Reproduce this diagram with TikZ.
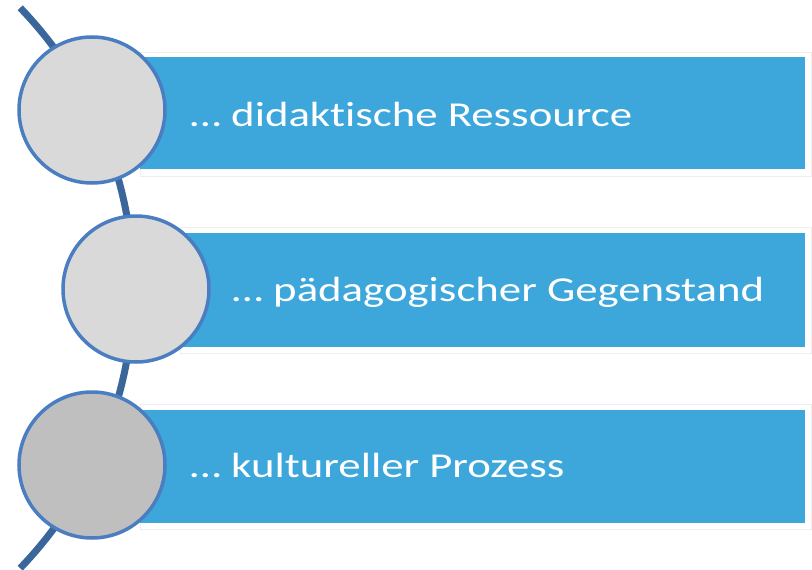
\documentclass[tikz,border=0pt]{standalone}
\usepackage{fontspec}
\setmainfont{Carlito}[FakeStretch=1.28, Ligatures=NoCommon]
\definecolor{barblue}{RGB}{61,167,219}
\definecolor{arcblue}{RGB}{58,102,156}
\definecolor{ringblue}{RGB}{74,126,192}
\definecolor{discA}{RGB}{217,217,217}
\definecolor{discB}{RGB}{191,191,191}
\definecolor{haze}{RGB}{236,238,240}
\tikzset{
  bar/.style={fill=barblue, draw=none},
  barframe/.style={draw=haze, line width=1pt},
  disc/.style={circle, draw=ringblue, line width=3.5pt, minimum size=146pt, inner sep=0pt},
  label/.style={text=white, font=\fontsize{35pt}{40pt}\selectfont, anchor=base west, inner sep=0pt},
  spine/.style={draw=arcblue, line width=7pt}
}
\begin{document}
\begin{tikzpicture}[x=1pt,y=-1pt]
\useasboundingbox (0,0) rectangle (812,570);
% spine arc: circle centre (-270,288), radius 403.4
\draw[spine] plot[domain=-44:44, samples=80] ({-270+403.4*cos(\x)}, {288+403.4*sin(\x)});
% bars
\draw[barframe] (140,52) rectangle (811,176);
\draw[barframe] (180,227) rectangle (811,353);
\draw[barframe] (140,404) rectangle (811,529);
\fill[bar] (140,57) rectangle (805,169);
\fill[bar] (180,233) rectangle (805,347);
\fill[bar] (140,410) rectangle (805,523);
% discs
\node[disc, fill=discA] (c1) at (92,110) {};
\node[disc, fill=discA] (c2) at (136,289) {};
\node[disc, fill=discB] (c3) at (92,465) {};
% labels
\node[label] (t1) at (190,126) {… didaktische Ressource};
\node[label] (t2) at (232,301) {… pädagogischer Gegenstand};
\node[label] (t3) at (190,477) {… kultureller Prozess};
\end{tikzpicture}
\end{document}
